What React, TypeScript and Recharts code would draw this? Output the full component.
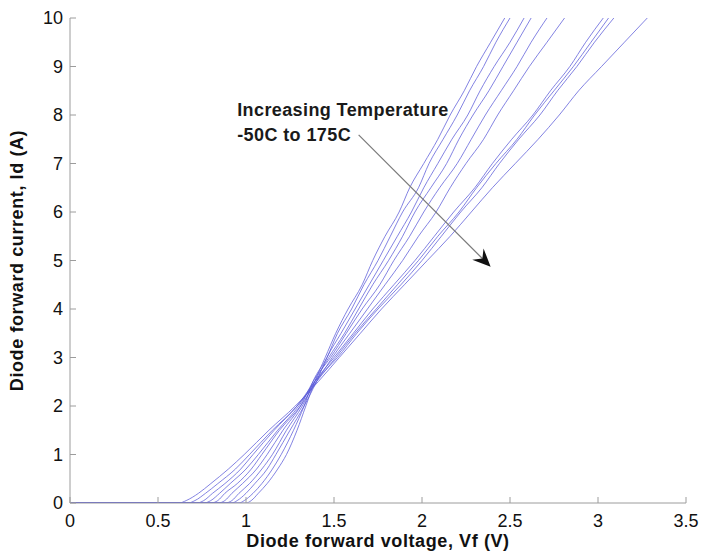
import { LineChart, Line, XAxis, YAxis, ReferenceLine, ReferenceDot, Label } from "recharts";

// current levels (A) at which each curve's forward voltage was read
const currentLevels = [0, 0.05, 0.2, 0.4, 0.7, 1, 1.5, 2, 2.5, 3, 3.5, 4, 4.5, 5, 5.5, 6, 6.5, 7, 7.5, 8, 8.5, 9, 9.5, 10];

// forward voltage (V) per temperature
const vfMinus50 = [1.0, 1.03, 1.07, 1.12, 1.18, 1.23, 1.29, 1.34, 1.39, 1.45, 1.51, 1.58, 1.66, 1.72, 1.79, 1.87, 1.93, 2.01, 2.09, 2.16, 2.24, 2.31, 2.39, 2.47];
const vfMinus25 = [0.96, 0.99, 1.04, 1.09, 1.15, 1.2, 1.27, 1.33, 1.38, 1.46, 1.52, 1.6, 1.67, 1.75, 1.82, 1.89, 1.98, 2.04, 2.12, 2.2, 2.27, 2.35, 2.42, 2.5];
const vf0 = [0.92, 0.95, 1.0, 1.05, 1.12, 1.17, 1.25, 1.33, 1.4, 1.46, 1.54, 1.62, 1.7, 1.78, 1.86, 1.94, 2.01, 2.09, 2.17, 2.26, 2.33, 2.41, 2.5, 2.58];
const vf25 = [0.88, 0.92, 0.96, 1.02, 1.09, 1.15, 1.23, 1.32, 1.39, 1.47, 1.56, 1.64, 1.72, 1.81, 1.89, 1.96, 2.05, 2.14, 2.21, 2.29, 2.38, 2.46, 2.54, 2.62];
const vf50 = [0.84, 0.88, 0.92, 0.98, 1.06, 1.12, 1.21, 1.31, 1.38, 1.48, 1.57, 1.66, 1.76, 1.84, 1.93, 2.01, 2.1, 2.2, 2.28, 2.36, 2.45, 2.54, 2.62, 2.71];
const vf75 = [0.8, 0.84, 0.88, 0.95, 1.03, 1.09, 1.19, 1.31, 1.4, 1.49, 1.59, 1.69, 1.79, 1.89, 1.98, 2.08, 2.16, 2.25, 2.35, 2.43, 2.52, 2.61, 2.71, 2.81];
const vf100 = [0.76, 0.8, 0.85, 0.91, 1.0, 1.07, 1.18, 1.3, 1.39, 1.5, 1.61, 1.72, 1.84, 1.96, 2.07, 2.18, 2.3, 2.4, 2.51, 2.63, 2.73, 2.84, 2.93, 3.03];
const vf125 = [0.72, 0.76, 0.81, 0.88, 0.97, 1.04, 1.16, 1.29, 1.4, 1.51, 1.62, 1.74, 1.86, 1.98, 2.09, 2.21, 2.31, 2.42, 2.54, 2.64, 2.75, 2.86, 2.96, 3.06];
const vf150 = [0.67, 0.71, 0.77, 0.84, 0.94, 1.02, 1.15, 1.29, 1.39, 1.52, 1.63, 1.75, 1.88, 2.0, 2.11, 2.22, 2.34, 2.44, 2.55, 2.67, 2.77, 2.88, 2.98, 3.09];
const vf175 = [0.62, 0.66, 0.73, 0.8, 0.9, 0.99, 1.13, 1.28, 1.41, 1.53, 1.65, 1.77, 1.9, 2.03, 2.16, 2.28, 2.4, 2.53, 2.66, 2.78, 2.89, 3.02, 3.15, 3.28];

const temperatures = [-50, -25, 0, 25, 50, 75, 100, 125, 150, 175];
const voltageSets = [vfMinus50, vfMinus25, vf0, vf25, vf50, vf75, vf100, vf125, vf150, vf175];

const voltTicks = [0, 0.5, 1, 1.5, 2, 2.5, 3, 3.5];
const currentTicks = [0, 1, 2, 3, 4, 5, 6, 7, 8, 9, 10];

// annotation anchors, in data units
const arrowFrom = { v: 1.64, i: 7.59 };
const arrowTo = { v: 2.39, i: 4.87 };
const noteAt = { v: 0.95, i: 7.98 };

const curves = temperatures.map((t, k) => ({
  name: `${t}C`,
  data: [{ v: 0, i: 0 }, ...currentLevels.map((i, idx) => ({ v: voltageSets[k][idx], i }))],
}));

const FONT = "'Liberation Sans', Arial, Helvetica, sans-serif";
const AXIS = "#9c9c9c";

function Arrow(props: any) {
  const { x1, y1, x2, y2 } = props;
  const dx = x2 - x1;
  const dy = y2 - y1;
  const len = Math.hypot(dx, dy);
  const ux = dx / len;
  const uy = dy / len;
  const nx = -uy;
  const ny = ux;
  const head = 18;
  const half = 8;
  const bx = x2 - ux * head;
  const by = y2 - uy * head;
  const mx = x2 - ux * head * 0.65;
  const my = y2 - uy * head * 0.65;
  return (
    <g>
      <line x1={x1} y1={y1} x2={mx} y2={my} stroke="#7a7a7a" strokeWidth={1.2} />
      <polygon
        points={`${x2},${y2} ${bx + nx * half},${by + ny * half} ${mx},${my} ${bx - nx * half},${by - ny * half}`}
        fill="#111"
      />
    </g>
  );
}

function Note(props: any) {
  const { cx, cy } = props;
  return (
    <text x={cx} y={cy} fontFamily={FONT} fontWeight="bold" fontSize={18} letterSpacing={0.4} fill="#1a1a1a">
      <tspan x={cx}>Increasing Temperature</tspan>
      <tspan x={cx} dy={25}>-50C to 175C</tspan>
    </text>
  );
}

export default function App() {
  const tickStyle = { fill: "#111", fontSize: 18, fontFamily: FONT };
  return (
    <div style={{ position: "absolute", left: 0, top: 0, width: 701, height: 556, background: "#fff" }}>
      <LineChart width={701} height={556} margin={{ top: 18, right: 15, left: 0, bottom: 0 }}>
        <XAxis
          dataKey="v"
          type="number"
          domain={[0, 3.5]}
          ticks={voltTicks}
          allowDataOverflow
          height={53}
          tickSize={-6}
          tickMargin={17}
          stroke={AXIS}
          tick={tickStyle}
        >
          <Label
            value="Diode forward voltage, Vf (V)"
            position="insideBottom"
            offset={9}
            style={{ fontFamily: FONT, fontWeight: "bold", fontSize: 18, letterSpacing: 0.6, fill: "#111" }}
          />
        </XAxis>
        <XAxis
          xAxisId="top"
          orientation="top"
          type="number"
          domain={[0, 3.5]}
          ticks={voltTicks}
          height={0}
          tickSize={-6}
          tick={false}
          stroke={AXIS}
        />
        <YAxis
          type="number"
          domain={[0, 10]}
          ticks={currentTicks}
          allowDataOverflow
          width={70}
          tickSize={-6}
          tickMargin={13}
          stroke={AXIS}
          tick={tickStyle}
        >
          <Label
            value="Diode forward current, Id (A)"
            angle={-90}
            position="insideLeft"
            offset={17}
            style={{ textAnchor: "middle", fontFamily: FONT, fontWeight: "bold", fontSize: 18, letterSpacing: 0.6, fill: "#111" }}
          />
        </YAxis>
        <YAxis
          yAxisId="right"
          orientation="right"
          type="number"
          domain={[0, 10]}
          ticks={currentTicks}
          width={0}
          tickSize={-6}
          tick={false}
          stroke={AXIS}
        />
        {curves.map((c) => (
          <Line
            key={c.name}
            name={c.name}
            data={c.data}
            dataKey="i"
            type="monotone"
            stroke="#5a5ad8"
            strokeOpacity={0.75}
            strokeWidth={1}
            dot={false}
            activeDot={false}
            isAnimationActive={false}
          />
        ))}
        <ReferenceLine
          segment={[
            { x: arrowFrom.v, y: arrowFrom.i },
            { x: arrowTo.v, y: arrowTo.i },
          ]}
          shape={Arrow}
        />
        <ReferenceDot x={noteAt.v} y={noteAt.i} r={0} shape={Note} />
      </LineChart>
    </div>
  );
}
